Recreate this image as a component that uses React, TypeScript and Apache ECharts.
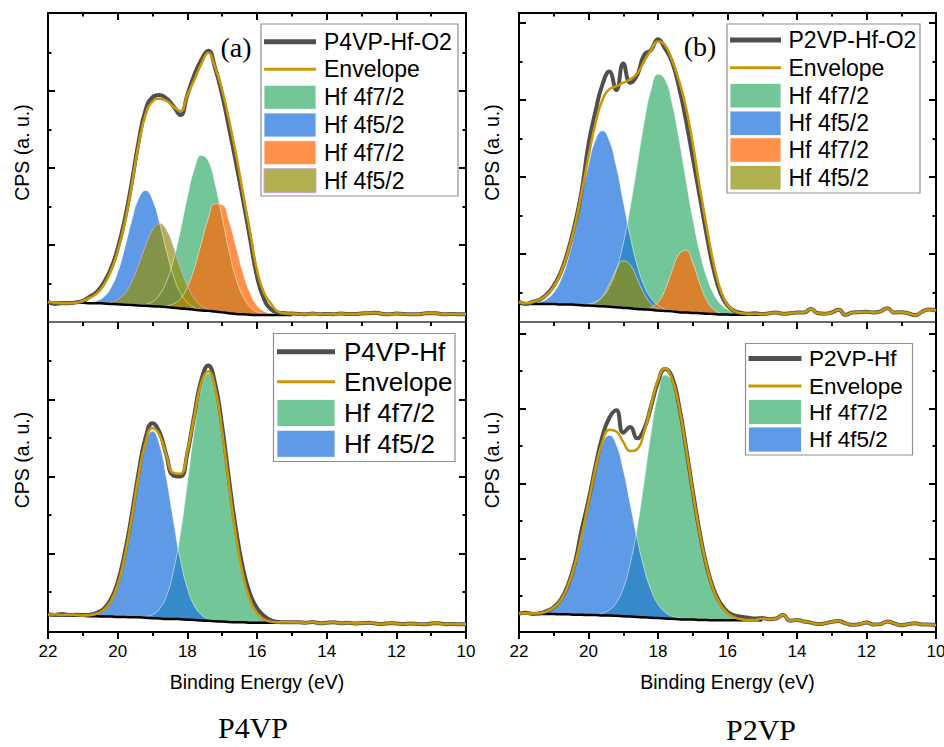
import React, { useEffect, useRef } from 'react';
import * as echarts from 'echarts';

// ---------- data (binding energy in eV, intensity in arbitrary units) ----------
const energy = [22.0,21.8,21.6,21.4,21.2,21.0,20.8,20.6,20.4,20.2,20.0,19.8,19.6,19.4,19.2,19.0,18.8,18.6,18.4,18.2,18.0,17.8,17.6,17.4,17.2,17.0,16.8,16.6,16.4,16.2,16.0,15.8,15.6,15.4,15.2,15.0,14.8,14.6,14.4,14.2,14.0,13.8,13.6,13.4,13.2,13.0,12.8,12.6,12.4,12.2,12.0,11.8,11.6,11.4,11.2,11.0,10.8,10.6,10.4,10.2,10.0];
const peakEnergy = energy.slice(0, 36);

// (a) P4VP-Hf-O2
const tlRawPeak = [0.53,0.47,0.49,0.49,0.51,0.55,0.66,0.78,1.02,1.37,1.91,2.65,3.60,4.68,5.51,5.84,5.90,5.81,5.61,5.38,5.90,6.42,6.81,7.05,6.59,5.90,5.03,4.12,3.17,2.17,1.18,0.60,0.33,0.25,0.23,0.22];
const tlEnvPeak = [0.53,0.50,0.49,0.49,0.50,0.55,0.63,0.74,0.96,1.31,1.83,2.56,3.52,4.60,5.38,5.73,5.80,5.75,5.60,5.48,5.90,6.29,6.70,7.00,6.61,6.03,5.24,4.35,3.34,2.35,1.35,0.76,0.48,0.27,0.23,0.22];
const tlTail = [0.21,0.20,0.22,0.20,0.21,0.20,0.22,0.21,0.21,0.22,0.23,0.24,0.21,0.20,0.22,0.21,0.20,0.20,0.22,0.23,0.22,0.20,0.21,0.20,0.20];
const tlBase = [0.50,0.50,0.50,0.50,0.50,0.50,0.49,0.49,0.48,0.47,0.46,0.45,0.44,0.43,0.42,0.41,0.40,0.39,0.37,0.35,0.34,0.32,0.30,0.29,0.27,0.25,0.23,0.21,0.20,0.19,0.18,0.18,0.18,0.18,0.18,0.18];
const tlGreen = [0,0,0,0,0,0,0,0,0,0,0,0,0,0.01,0.04,0.12,0.31,0.66,1.23,2.02,2.90,3.65,4.03,3.90,3.31,2.46,1.60,0.91,0.46,0.20,0.08,0.03,0.01,0,0,0];
const tlBlue = [0,0,0,0,0,0,0.02,0.06,0.17,0.41,0.83,1.46,2.18,2.77,3.00,2.77,2.18,1.46,0.83,0.41,0.17,0.06,0.02,0,0,0,0,0,0,0,0,0,0,0,0,0];
const tlOrange = [0,0,0,0,0,0,0,0,0,0,0,0,0,0,0,0,0,0.03,0.10,0.25,0.57,1.07,1.74,2.39,2.80,2.80,2.39,1.74,1.07,0.57,0.25,0.10,0.03,0.01,0,0];
const tlOlive = [0,0,0,0,0,0,0,0,0.01,0.04,0.12,0.29,0.60,1.05,1.56,1.98,2.15,1.98,1.56,1.05,0.60,0.29,0.12,0.04,0.01,0,0,0,0,0,0,0,0,0,0,0];

// (b) P2VP-Hf-O2
const trRawPeak = [0.76,0.70,0.76,0.82,0.95,1.18,1.52,2.05,2.75,3.62,4.85,5.70,6.40,6.74,6.26,6.95,6.45,6.65,7.17,7.30,7.58,7.34,7.00,6.35,5.50,4.50,3.50,2.50,1.60,0.98,0.66,0.52,0.47,0.45,0.46,0.44];
const trEnvPeak = [0.76,0.72,0.76,0.82,0.94,1.15,1.50,2.02,2.71,3.58,4.53,5.39,6.00,6.28,6.36,6.45,6.54,6.69,7.00,7.30,7.52,7.43,7.04,6.52,5.83,4.87,3.75,2.71,1.76,1.06,0.68,0.52,0.46,0.45,0.45,0.44];
const trTail = [0.46,0.48,0.45,0.46,0.48,0.48,0.57,0.46,0.45,0.48,0.55,0.42,0.48,0.49,0.50,0.48,0.51,0.59,0.48,0.49,0.46,0.41,0.50,0.56,0.53];
const trBase = [0.71,0.71,0.70,0.70,0.70,0.70,0.69,0.69,0.68,0.67,0.66,0.65,0.64,0.63,0.62,0.60,0.59,0.57,0.56,0.55,0.53,0.52,0.51,0.49,0.48,0.47,0.46,0.45,0.44,0.43,0.43,0.42,0.42,0.42,0.42,0.42];
const trGreen = [0,0,0,0,0,0,0,0,0,0,0.04,0.11,0.25,0.51,0.97,1.67,2.62,3.74,4.85,5.72,6.14,6.02,5.43,4.52,3.47,2.45,1.60,0.96,0.53,0.27,0.13,0.06,0.02,0.01,0,0];
const trBlue = [0,0,0,0.05,0.13,0.30,0.62,1.14,1.87,2.77,3.65,4.31,4.56,4.31,3.65,2.77,1.87,1.14,0.62,0.30,0.13,0.05,0.02,0,0,0,0,0,0,0,0,0,0,0,0,0];
const trOrange = [0,0,0,0,0,0,0,0,0,0,0,0,0,0,0,0,0,0,0,0.06,0.21,0.54,1.04,1.50,1.62,1.30,0.78,0.35,0.12,0.03,0,0,0,0,0,0];
const trOlive = [0,0,0,0,0,0,0,0,0,0,0.02,0.09,0.26,0.59,0.98,1.22,1.13,0.79,0.41,0.16,0.05,0.01,0,0,0,0,0,0,0,0,0,0,0,0,0,0];

// P4VP-Hf
const blRawPeak = [0.42,0.40,0.43,0.40,0.41,0.40,0.41,0.46,0.56,0.80,1.25,2.00,2.98,4.10,5.00,5.38,5.15,4.55,4.02,4.00,4.60,5.60,6.50,6.88,6.40,5.30,3.90,2.60,1.60,0.95,0.58,0.38,0.26,0.22,0.21,0.21];
const blEnvPeak = [0.41,0.42,0.40,0.41,0.40,0.39,0.40,0.44,0.53,0.75,1.18,1.91,2.90,4.00,4.88,5.26,5.08,4.54,4.09,4.07,4.64,5.57,6.43,6.73,6.28,5.16,3.76,2.44,1.44,0.79,0.45,0.29,0.23,0.21,0.21,0.21];
const blTail = [0.21,0.20,0.22,0.19,0.20,0.21,0.19,0.20,0.18,0.19,0.20,0.18,0.17,0.19,0.18,0.17,0.18,0.17,0.16,0.18,0.19,0.16,0.17,0.16,0.16];
const blBase = [0.40,0.40,0.39,0.39,0.38,0.38,0.37,0.37,0.36,0.36,0.35,0.35,0.34,0.34,0.33,0.32,0.31,0.30,0.30,0.29,0.28,0.27,0.26,0.25,0.24,0.23,0.22,0.21,0.21,0.20,0.20,0.20,0.20,0.20,0.20,0.20];
const blGreen = [0,0,0,0,0,0,0,0,0,0,0,0,0,0,0.03,0.09,0.25,0.59,1.23,2.23,3.54,4.93,6.02,6.43,6.02,4.93,3.54,2.23,1.23,0.59,0.25,0.09,0.03,0.01,0,0];
const blBlue = [0,0,0,0,0,0,0.02,0.05,0.15,0.37,0.82,1.55,2.56,3.65,4.52,4.85,4.52,3.65,2.56,1.55,0.82,0.37,0.15,0.05,0.02,0,0,0,0,0,0,0,0,0,0,0];

// P2VP-Hf
const brRawPeak = [0.53,0.55,0.52,0.54,0.60,0.70,0.90,1.27,1.85,2.75,3.55,4.45,5.25,5.75,5.95,5.35,5.50,5.20,5.45,6.05,6.70,7.05,6.85,6.10,5.00,3.80,2.70,1.80,1.18,0.80,0.58,0.48,0.45,0.42,0.40,0.41];
const brEnvPeak = [0.53,0.54,0.53,0.55,0.59,0.69,0.88,1.25,1.81,2.59,3.49,4.39,5.10,5.43,5.38,5.10,4.86,4.91,5.36,6.08,6.75,7.06,6.80,6.07,4.98,3.78,2.67,1.79,1.15,0.76,0.54,0.43,0.38,0.36,0.36,0.40];
const brTail = [0.38,0.40,0.49,0.34,0.36,0.32,0.29,0.25,0.27,0.31,0.33,0.27,0.23,0.25,0.29,0.24,0.25,0.32,0.27,0.22,0.25,0.27,0.24,0.24,0.22];
const brBase = [0.53,0.53,0.53,0.52,0.52,0.52,0.51,0.51,0.50,0.50,0.49,0.49,0.48,0.48,0.47,0.46,0.45,0.44,0.43,0.42,0.41,0.40,0.39,0.38,0.37,0.37,0.36,0.36,0.35,0.35,0.35,0.35,0.35,0.35,0.35,0.35];
const brGreen = [0,0,0,0,0,0,0,0,0,0,0,0,0.06,0.15,0.35,0.74,1.41,2.38,3.62,4.92,5.97,6.49,6.34,5.66,4.60,3.41,2.31,1.43,0.80,0.41,0.19,0.08,0.03,0.01,0,0];
const brBlue = [0,0,0,0.03,0.07,0.17,0.37,0.74,1.31,2.09,3.00,3.90,4.56,4.80,4.56,3.90,3.00,2.09,1.31,0.74,0.37,0.17,0.07,0.03,0.01,0,0,0,0,0,0,0,0,0,0,0];

// axis ticks
const xMin = 10;
const xMax = 22;
const xStep = 2;
const majorTicks = [2, 4, 6, 8];
const minorTicks = [1, 3, 5, 7];
const xTitle = 'Binding Energy (eV)';
const yTitle = 'CPS (a. u.)';
const envelopeName = 'Envelope';

// ---------- styles ----------
const FONT = '"Liberation Sans", Arial, Helvetica, sans-serif';
const SERIF = '"Liberation Serif", "Times New Roman", Times, serif';
const RAW_COLOR = '#4f4f4f';
const ENV_COLOR = '#C99805';
const FILL: Record<string, string> = {
  green: 'rgba(61,176,112,0.72)',
  blue: 'rgba(32,115,221,0.72)',
  orange: 'rgba(255,103,5,0.72)',
  olive: 'rgba(146,146,12,0.72)',
};
const SWATCH: Record<string, string> = {
  green: '#73C698',
  blue: '#5E9AE6',
  orange: '#FF914B',
  olive: '#B0B050',
};

type Comp = { name: string; data: number[]; kind: string; edge?: string };
type Panel = {
  sample: string;
  raw: number[];
  env: number[];
  base: number[];
  comps: Comp[];
  grid: { left: number; top: number; width: number; height: number };
  yMin: number;
  yMax: number;
  bottomRow: boolean;
  yTitlePos: number[];
  legend: { box: number[]; sx1: number; sx2: number; tx: number; rows: number[]; font: number; sh: number };
};

const panels: Panel[] = [
  {
    sample: 'P4VP-Hf-O2',
    raw: [...tlRawPeak, ...tlTail],
    env: [...tlEnvPeak, ...tlTail],
    base: tlBase,
    comps: [
      { name: 'Hf 4f7/2', data: tlGreen, kind: 'green' },
      { name: 'Hf 4f5/2', data: tlBlue, kind: 'blue' },
      { name: 'Hf 4f7/2', data: tlOrange, kind: 'orange' },
      { name: 'Hf 4f5/2', data: tlOlive, kind: 'olive', edge: '#C9A3DA' },
    ],
    grid: { left: 48, top: 13, width: 418, height: 309 },
    yMin: 0,
    yMax: 8.03,
    bottomRow: false,
    yTitlePos: [22, 152.5],
    legend: { box: [261, 24, 197, 172], sx1: 264, sx2: 316, tx: 324, rows: [41.7, 69.3, 97.3, 125, 152.7, 180.7], font: 23, sh: 24 },
  },
  {
    sample: 'P2VP-Hf-O2',
    raw: [...trRawPeak, ...trTail],
    env: [...trEnvPeak, ...trTail],
    base: trBase,
    comps: [
      { name: 'Hf 4f7/2', data: trGreen, kind: 'green' },
      { name: 'Hf 4f5/2', data: trBlue, kind: 'blue' },
      { name: 'Hf 4f7/2', data: trOrange, kind: 'orange' },
      { name: 'Hf 4f5/2', data: trOlive, kind: 'olive' },
    ],
    grid: { left: 519, top: 13, width: 417, height: 309 },
    yMin: 0.234,
    yMax: 8.26,
    bottomRow: false,
    yTitlePos: [492, 152.5],
    legend: { box: [727, 24, 193, 169], sx1: 730, sx2: 781, tx: 788.5, rows: [40, 67.7, 95.7, 123.3, 150, 177.7], font: 23, sh: 24.5 },
  },
  {
    sample: 'P4VP-Hf',
    raw: [...blRawPeak, ...blTail],
    env: [...blEnvPeak, ...blTail],
    base: blBase,
    comps: [
      { name: 'Hf 4f7/2', data: blGreen, kind: 'green' },
      { name: 'Hf 4f5/2', data: blBlue, kind: 'blue' },
    ],
    grid: { left: 48, top: 322, width: 418, height: 310 },
    yMin: -0.04,
    yMax: 8.01,
    bottomRow: true,
    yTitlePos: [22, 460],
    legend: { box: [273.5, 333.5, 181.5, 128], sx1: 277, sx2: 335, tx: 344, rows: [351.7, 381.7, 413, 443.8], font: 26, sh: 27 },
  },
  {
    sample: 'P2VP-Hf',
    raw: [...brRawPeak, ...brTail],
    env: [...brEnvPeak, ...brTail],
    base: brBase,
    comps: [
      { name: 'Hf 4f7/2', data: brGreen, kind: 'green' },
      { name: 'Hf 4f5/2', data: brBlue, kind: 'blue' },
    ],
    grid: { left: 519, top: 322, width: 417, height: 310 },
    yMin: 0.04,
    yMax: 8.3,
    bottomRow: true,
    yTitlePos: [492, 460],
    legend: { box: [745.5, 343.5, 167, 111.5], sx1: 748.5, sx2: 801.5, tx: 809, rows: [358.5, 386, 412, 439.5], font: 22.5, sh: 25 },
  },
];

const panelLetters = [
  { text: '(a)', x: 236, y: 47.5 },
  { text: '(b)', x: 700, y: 46 },
];
const captions = [
  { text: 'P4VP', x: 253, y: 727 },
  { text: 'P2VP', x: 761, y: 729 },
];

function buildOption() {
  const grids: any[] = [];
  const xAxes: any[] = [];
  const yAxes: any[] = [];
  const series: any[] = [];
  const graphics: any[] = [];
  const black = { color: '#000', width: 2 };

  panels.forEach((p, i) => {
    grids.push({ ...p.grid, containLabel: false, outerBoundsMode: 'none' });

    xAxes.push({
      gridIndex: i, type: 'value', position: 'bottom', min: xMin, max: xMax, interval: xStep, inverse: true,
      axisLine: { show: true, onZero: false, lineStyle: p.bottomRow ? black : { color: '#3a3a3a', width: 1.5 } },
      axisTick: { show: true, inside: false, length: 7, lineStyle: black },
      minorTick: { show: true, splitNumber: 2, length: 4, lineStyle: black },
      axisLabel: { show: p.bottomRow, fontSize: 17, fontFamily: FONT, color: '#000', margin: 11 },
      splitLine: { show: false }, minorSplitLine: { show: false },
      name: p.bottomRow ? xTitle : '', nameLocation: 'middle', nameGap: 40,
      nameTextStyle: { fontSize: 19.5, fontFamily: FONT, color: '#000' },
    });
    xAxes.push({
      gridIndex: i, type: 'value', position: 'top', min: xMin, max: xMax, interval: xStep, inverse: true,
      axisLine: { show: !p.bottomRow, onZero: false, lineStyle: black },
      axisTick: { show: !p.bottomRow, inside: true, length: 7, lineStyle: black },
      minorTick: { show: !p.bottomRow, splitNumber: 2, length: 3.5, lineStyle: black },
      axisLabel: { show: false }, splitLine: { show: false },
    });

    const majors = majorTicks.filter((v) => v > p.yMin && v < p.yMax - 0.1);
    const yBase = { gridIndex: i, type: 'value', min: p.yMin, max: p.yMax, splitLine: { show: false }, axisLabel: { show: false } };
    yAxes.push({
      ...yBase, position: 'left',
      axisLine: { show: true, onZero: false, lineStyle: black },
      axisTick: { show: true, inside: true, length: 7, customValues: majors, lineStyle: black },
    });
    yAxes.push({
      ...yBase, position: 'left', axisLine: { show: false },
      axisTick: { show: true, inside: true, length: 3.5, customValues: minorTicks, lineStyle: black },
    });
    yAxes.push({
      ...yBase, position: 'right',
      axisLine: { show: true, onZero: false, lineStyle: black },
      axisTick: { show: true, inside: true, length: 7, customValues: majors, lineStyle: black },
    });
    yAxes.push({
      ...yBase, position: 'right', axisLine: { show: false },
      axisTick: { show: true, inside: true, length: 3.5, customValues: minorTicks, lineStyle: black },
    });

    const xi = 2 * i;
    const yi = 4 * i;

    // components: filled between the background and background + peak (stacked on the value dimension)
    p.comps.forEach((c, j) => {
      const stack = `p${i}c${j}`;
      series.push({
        type: 'line', xAxisIndex: xi, yAxisIndex: yi, stack,
        encode: { x: 1, y: 0 },
        data: peakEnergy.map((e, k) => [p.base[k], e]),
        symbol: 'none', smooth: true, silent: true, lineStyle: { width: 0, opacity: 0 },
      });
      series.push({
        type: 'line', name: c.name, xAxisIndex: xi, yAxisIndex: yi, stack,
        encode: { x: 1, y: 0 },
        data: peakEnergy.map((e, k) => [c.data[k], e]),
        symbol: 'none', smooth: true, silent: true,
        lineStyle: { width: 1, color: c.edge || 'rgba(255,255,255,0.5)' },
        areaStyle: { color: FILL[c.kind], opacity: 1 },
      });
    });

    series.push({
      type: 'line', name: 'Baseline', xAxisIndex: xi, yAxisIndex: yi,
      data: peakEnergy.map((e, k) => [e, p.base[k]]),
      symbol: 'none', smooth: true, silent: true, lineStyle: { color: '#000', width: 2.5 },
    });
    series.push({
      type: 'line', name: p.sample, xAxisIndex: xi, yAxisIndex: yi,
      data: energy.map((e, k) => [e, p.raw[k]]),
      symbol: 'none', smooth: true, silent: true, lineStyle: { color: RAW_COLOR, width: 4 },
    });
    series.push({
      type: 'line', name: envelopeName, xAxisIndex: xi, yAxisIndex: yi,
      data: energy.map((e, k) => [e, p.env[k]]),
      symbol: 'none', smooth: true, silent: true, lineStyle: { color: ENV_COLOR, width: 2.5 },
    });

    // y axis title
    graphics.push({
      type: 'text', z: 101, x: p.yTitlePos[0], y: p.yTitlePos[1], rotation: Math.PI / 2,
      style: {
        text: yTitle, fontSize: 19.5, fontFamily: FONT, fill: '#000',
        textAlign: 'center', textVerticalAlign: 'middle', align: 'center', verticalAlign: 'middle',
      },
    });

    // legend box
    const L = p.legend;
    graphics.push({
      type: 'rect', z: 100,
      shape: { x: L.box[0], y: L.box[1], width: L.box[2], height: L.box[3] },
      style: { fill: '#fff', stroke: '#8f8f8f', lineWidth: 1.2 },
    });
    const items = [
      { name: p.sample, kind: 'raw' },
      { name: envelopeName, kind: 'env' },
      ...p.comps.map((c) => ({ name: c.name, kind: c.kind, edge: c.edge })),
    ];
    items.forEach((it: any, k) => {
      const cy = L.rows[k];
      if (it.kind === 'raw' || it.kind === 'env') {
        graphics.push({
          type: 'line', z: 101,
          shape: { x1: L.sx1, y1: cy, x2: L.sx2, y2: cy },
          style: { stroke: it.kind === 'raw' ? RAW_COLOR : ENV_COLOR, lineWidth: it.kind === 'raw' ? 5 : 3 },
        });
      } else {
        graphics.push({
          type: 'rect', z: 101,
          shape: { x: L.sx1, y: cy - L.sh / 2, width: L.sx2 - L.sx1, height: L.sh },
          style: { fill: SWATCH[it.kind], stroke: it.edge || 'rgba(255,255,255,0.8)', lineWidth: 1 },
        });
      }
      graphics.push({
        type: 'text', z: 101, x: L.tx, y: cy,
        style: {
          text: it.name, fontSize: L.font, fontFamily: FONT, fill: '#000',
          textAlign: 'left', textVerticalAlign: 'middle', align: 'left', verticalAlign: 'middle',
        },
      });
    });
  });

  panelLetters.forEach((t) => {
    graphics.push({
      type: 'text', z: 101, x: t.x, y: t.y,
      style: { text: t.text, fontSize: 28, fontFamily: SERIF, fill: '#000', textAlign: 'center', textVerticalAlign: 'middle', align: 'center', verticalAlign: 'middle' },
    });
  });
  captions.forEach((t) => {
    graphics.push({
      type: 'text', z: 101, x: t.x, y: t.y,
      style: { text: t.text, fontSize: 30, fontFamily: SERIF, fill: '#000', textAlign: 'center', textVerticalAlign: 'middle', align: 'center', verticalAlign: 'middle' },
    });
  });

  return {
    animation: false,
    backgroundColor: '#fff',
    grid: grids,
    xAxis: xAxes,
    yAxis: yAxes,
    series,
    graphic: { elements: graphics },
  };
}

export default function App() {
  const ref = useRef<HTMLDivElement>(null);
  useEffect(() => {
    if (!ref.current) return;
    const chart = echarts.init(ref.current, null, { renderer: 'svg' });
    chart.setOption(buildOption() as any);
    return () => chart.dispose();
  }, []);
  return (
    <div
      ref={ref}
      style={{ position: 'fixed', left: 0, top: 0, width: 944, height: 747, background: '#fff' }}
    />
  );
}
